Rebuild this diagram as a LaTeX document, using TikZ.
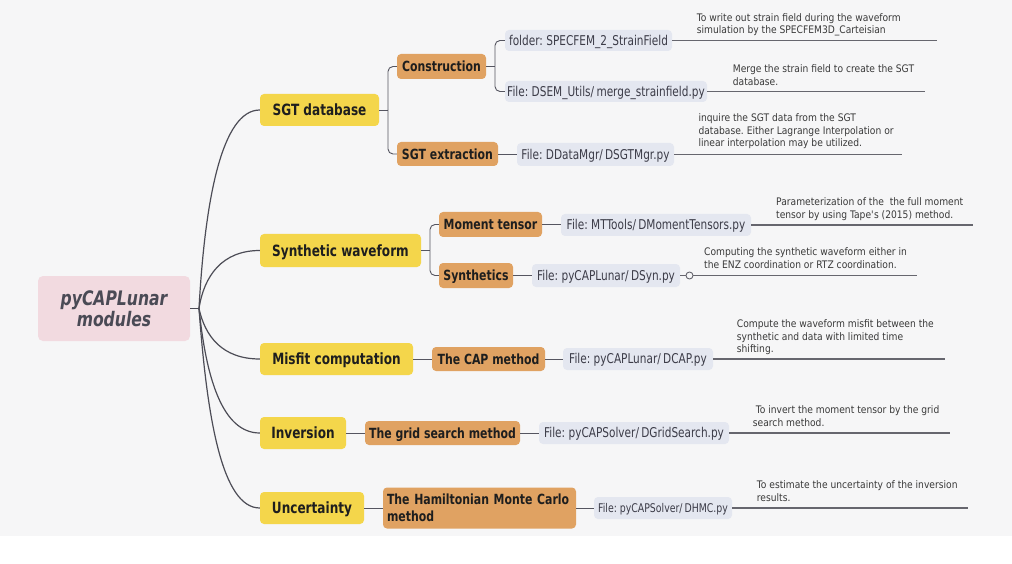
\documentclass[tikz,border=0pt]{standalone}
\usepackage{fontspec}
\setmainfont{DejaVu Sans}[FakeStretch=0.78, BoldFont={DejaVu Sans Bold}, ItalicFont={DejaVu Sans Oblique}, BoldItalicFont={DejaVu Sans Bold Oblique}]
\newfontfamily\notefont{DejaVu Sans}[FakeStretch=0.88]
\definecolor{cBg}{HTML}{F6F6F7}
\definecolor{cYellow}{HTML}{F4D64B}
\definecolor{cOrange}{HTML}{E0A262}
\definecolor{cBlue}{HTML}{E4E7F0}
\definecolor{cPink}{HTML}{F2DAE0}
\definecolor{cLine}{HTML}{555560}
\definecolor{cNoteLine}{HTML}{66666E}
\definecolor{cText}{HTML}{1E1E1E}
\definecolor{cRoot}{HTML}{4A4A55}
\definecolor{cFile}{HTML}{3C3C48}
\definecolor{cNote}{HTML}{3A3A3A}
\begin{document}
\frenchspacing
\begin{tikzpicture}[x=1pt,y=-1pt,
  rootbox/.style={fill=cPink, rounded corners=5, minimum width=152, minimum height=65, inner sep=0pt,
    font=\bfseries\itshape\fontsize{20}{20.5}\selectfont, text=cRoot, align=center},
  topic/.style={fill=cYellow, rounded corners=4, minimum height=32, inner sep=0pt,
    font=\bfseries\fontsize{15.5}{18}\selectfont, text=cText, text height=11.3pt, text depth=0pt},
  subbase/.style={fill=cOrange, rounded corners=4, minimum height=25, inner sep=0pt,
    font=\bfseries\fontsize{14}{16.5}\selectfont, text=cText},
  sub/.style={subbase, text height=10.2pt, text depth=0pt},
  file/.style={fill=cBlue, rounded corners=4, minimum height=22, inner sep=0pt,
    font=\fontsize{13.5}{16}\selectfont, text=cFile, text height=9.8pt, text depth=0pt},
  note/.style={anchor=north west, inner sep=0pt, align=left,
    font=\notefont\fontsize{10.4}{12.8}\selectfont, text=cNote},
  conn/.style={draw=cLine, line width=0.9pt},
  conn2/.style={draw=cLine!90!black, line width=1.2pt},
  nline/.style={draw=cNoteLine, line width=1.1pt},
]
\fill[white] (0,0) rectangle (1012,564);
\fill[cBg] (0,0) rectangle (1012,535.5);
\useasboundingbox (0,0) rectangle (1012,564);

% root
\node[rootbox] (root) at (114,308.5) {pyCAPLunar\\modules};

% main topics
\node[topic, minimum width=119] (sgt) at (319.5,110) {SGT database};
\node[topic, minimum width=161, minimum height=33] (syn) at (340.5,250.5) {Synthetic waveform};
\node[topic, minimum width=153] (mis) at (336.5,359) {Misfit computation};
\node[topic, minimum width=86] (inv) at (303,433) {Inversion};
\node[topic, minimum width=104] (unc) at (312,508) {Uncertainty};

% sub topics
\node[sub, minimum width=89] (con) at (441.5,66.5) {Construction};
\node[sub, minimum width=101, minimum height=24] (ext) at (447.5,154) {SGT extraction};
\node[sub, minimum width=103] (mt) at (490.5,224.5) {Moment tensor};
\node[sub, minimum width=74] (sy) at (476,275.5) {Synthetics};
\node[sub, minimum width=113, minimum height=24] (cap) at (488.5,359) {The CAP method};
\node[sub, minimum width=155, minimum height=24] (grid) at (442.5,433) {The grid search method};
\node[subbase, minimum width=193, minimum height=41, text width=185pt, align=left] (hmc) at (479.5,508) {The Hamiltonian Monte Carlo\\method};

% file nodes
\node[file, minimum width=167, minimum height=21] (f1) at (588.5,40.5) {folder: SPECFEM\_2\_StrainField};
\node[file, minimum width=202, minimum height=21] (f2) at (606,91.5) {File: DSEM\_Utils/\,merge\_strainfield.py};
\node[file, minimum width=157, minimum height=23] (f3) at (595.5,154.5) {File: DDataMgr/\,DSGTMgr.py};
\node[file, minimum width=190] (f4) at (656,225) {File: MTTools/\,DMomentTensors.py};
\node[file, minimum width=148, minimum height=23] (f5) at (606,275.5) {File: pyCAPLunar/\,DSyn.py};
\node[file, minimum width=150] (f6) at (638,359) {File: pyCAPLunar/\,DCAP.py};
\node[file, minimum width=190] (f7) at (634,433) {File: pyCAPSolver/\,DGridSearch.py};
\node[file, minimum width=138, font=\fontsize{12}{14}\selectfont, text height=8.75pt] (f8) at (663,508) {File: pyCAPSolver/\,DHMC.py};

% notes
\node[note] (n1) at (696.7,13.1) {To write out strain field during the waveform\\simulation by the SPECFEM3D\_Carteisian};
\node[note] (n2) at (732.7,64.7) {Merge the strain field to create the SGT\\database.};
\node[note] (n3) at (698.3,113.1) {inquire the SGT data from the SGT\\database. Either Lagrange Interpolation or\\linear interpolation may be utilized.};
\node[note] (n4) at (776,197.4) {Parameterization of the~ the full moment\\tensor by using Tape\textquotesingle s (2015) method.};
\node[note] (n5) at (704,247.4) {Computing the synthetic waveform either in\\the ENZ coordination or RTZ coordination.};
\node[note] (n6) at (736.7,319.1) {Compute the waveform misfit between the\\synthetic and data with limited time\\shifting.};
\node[note] (n7) at (752.7,405.1) {~To invert the moment tensor by the grid\\search method.};
\node[note] (n8) at (756.7,480.1) {To estimate the uncertainty of the inversion\\results.};

% note line ends
\coordinate (e1) at (937,40.5);
\coordinate (e2) at (925,91.5);
\coordinate (e3) at (902,154.5);
\coordinate (e4) at (973,225);
\coordinate (e5) at (916.5,275.5);
\coordinate (e6) at (945,359);
\coordinate (e7) at (950,433);
\coordinate (e8) at (968,508);
\node[circle, draw=cNoteLine, line width=0.9pt, minimum size=7pt, inner sep=0pt] (c5) at (689.5,275.5) {};

\draw[nline] (f1.east) -- (e1);
\draw[nline] (f2.east) -- (e2);
\draw[nline] (f3.east) -- (e3);
\draw[nline] (f4.east) -- (e4);
\draw[nline] (f5.east) -- (c5.west);
\draw[nline] (c5.east) -- (e5);
\draw[nline] (f6.east) -- (e6);
\draw[nline] (f7.east) -- (e7);
\draw[nline] (f8.east) -- (e8);

% root connectors
\coordinate (hub) at (199,308.5);
\draw[conn2] (root.east) -- (hub);
\draw[conn2] (hub) .. controls (205,199) and (222,110) .. (sgt.west);
\draw[conn2] (hub) .. controls (204,276) and (222,250.5) .. (syn.west);
\draw[conn2] (hub) .. controls (205,336) and (222,359) .. (mis.west);
\draw[conn2] (hub) .. controls (206,377) and (222,433) .. (inv.west);
\draw[conn2] (hub) .. controls (207,418) and (222,508) .. (unc.west);

% tree connectors
\coordinate (j1) at (388,110);
\draw[conn] (sgt.east) -- (j1);
\draw[conn, rounded corners=5] (j1) |- (con.west);
\draw[conn, rounded corners=5] (j1) |- (ext.west);
\coordinate (j2) at (495,66.5);
\draw[conn] (con.east) -- (j2);
\draw[conn, rounded corners=5] (j2) |- (f1.west);
\draw[conn, rounded corners=5] (j2) |- (f2.west);
\coordinate (j3) at (430,250.5);
\draw[conn] (syn.east) -- (j3);
\draw[conn, rounded corners=5] (j3) |- (mt.west);
\draw[conn, rounded corners=5] (j3) |- (sy.west);

\draw[conn] (ext.east) -- (ext.east -| f3.west);
\draw[conn] (mt.east) -- (mt.east -| f4.west);
\draw[conn] (sy.east) -- (sy.east -| f5.west);
\draw[conn] (mis.east) -- (cap.west);
\draw[conn] (cap.east) -- (f6.west);
\draw[conn] (inv.east) -- (grid.west);
\draw[conn] (grid.east) -- (f7.west);
\draw[conn] (unc.east) -- (hmc.west);
\draw[conn] (hmc.east) -- (f8.west);
\end{tikzpicture}
\end{document}
